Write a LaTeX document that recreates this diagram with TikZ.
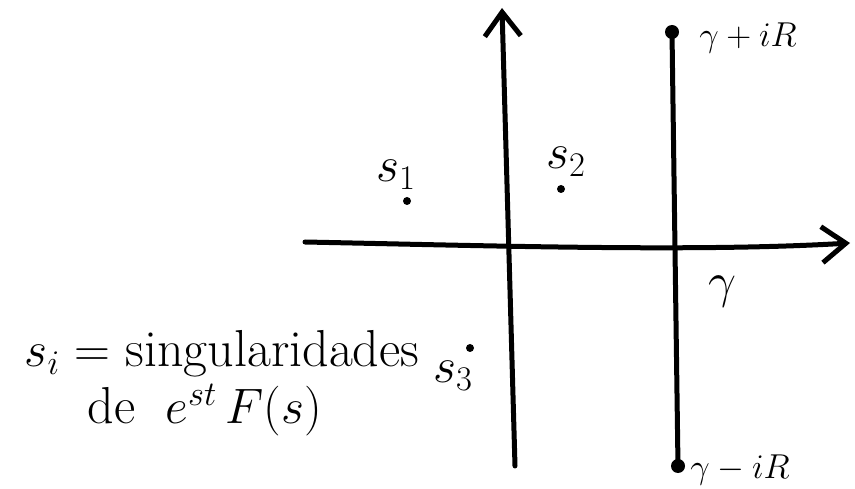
\documentclass[tikz,border=0pt]{standalone}
\usepackage{tikz}
\usetikzlibrary{arrows.meta}

\begin{document}
\begin{tikzpicture}[x=1pt,y=-1pt,
    line width=5pt, line cap=round, line join=round,
    every node/.style={inner sep=0pt,outer sep=0pt},
    axis/.style={-{Straight Barb[length=24pt,width=36pt,line width=5pt]}},
    lab/.style={font=\fontsize{17}{20}\selectfont,scale=2,transform shape},
    slab/.style={font=\fontsize{25}{30}\selectfont,scale=2,transform shape},
    txt/.style={font=\fontsize{26}{30}\selectfont,scale=2,transform shape}]
  \useasboundingbox (0,0) rectangle (855,489);
  % ---- ejes ----
  \coordinate (xl) at (305,242);
  \coordinate (xr) at (850,243);
  \coordinate (yb) at (515,466);
  \coordinate (yt) at (502,8);
  \draw[axis] (xl) .. controls (500,246) and (700,252) .. (xr);
  \draw[axis] (yb) -- (yt);
  % ---- recta de Bromwich ----
  \coordinate (gt) at (672,32);
  \coordinate (gb) at (678,466);
  \draw (gb) -- (gt);
  \fill (gt) circle[radius=7pt];
  \fill (gb) circle[radius=7pt];
  \node[lab] (gtl) at (748,38) {$\gamma+iR$};
  \node[lab] (gbl) at (740,470) {$\gamma-iR$};
  \node[slab] (g) at (722,292) {$\gamma$};
  % ---- singularidades ----
  \coordinate (p1) at (407,201);
  \coordinate (p2) at (561,189);
  \coordinate (p3) at (470,348);
  \fill (p1) circle[radius=4pt] (p2) circle[radius=4pt] (p3) circle[radius=4pt];
  \node[slab] (s1) at (396,175) {$s_1$};
  \node[slab] (s2) at (566,162) {$s_2$};
  \node[slab] (s3) at (453,376) {$s_3$};
  % ---- texto ----
  \node[txt] (t1) at (222,354) {$s_i=$ singularidades};
  \node[txt] (t2) at (205,410) {de\; $e^{st}\,F(s)$};
\end{tikzpicture}
\end{document}
